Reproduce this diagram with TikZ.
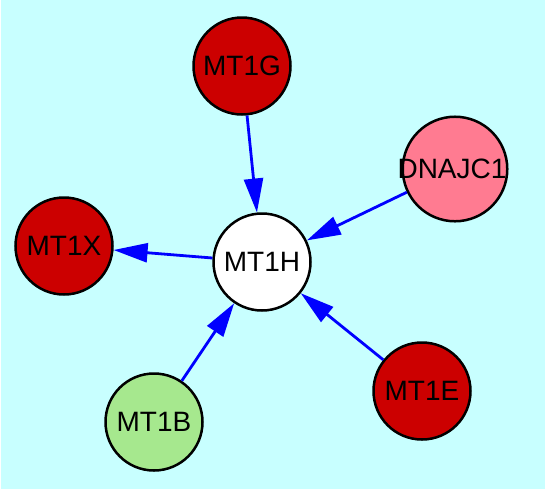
\documentclass[tikz,border=0pt]{standalone}
\usepackage{fontspec}
\setmainfont{Liberation Sans}
\usetikzlibrary{arrows.meta}
\definecolor{bgcyan}{RGB}{200,255,255}
\definecolor{nred}{RGB}{204,0,0}
\definecolor{npink}{RGB}{255,123,145}
\definecolor{ngreen}{RGB}{166,232,142}
\tikzset{
  gene/.style={circle, draw=black, line width=2.5pt, minimum size=97pt, inner sep=0pt,
    font=\fontsize{28}{28}\selectfont, text=black},
  link/.style={draw={rgb,255:red,0;green,0;blue,255}, line width=2.8pt,
    -{Triangle[length=34pt,width=19pt]}}
}
\begin{document}
\begin{tikzpicture}[x=1pt,y=-1pt]
\useasboundingbox (0,0) rectangle (545,491);
\fill[white] (0,0) rectangle (545,491);
\fill[bgcyan] (1,0) rectangle (545,489);
\node[gene, fill=nred] (g) at (242,66) {MT1G};
\node[gene, fill=npink] (d) at (455,169) {\hspace*{-6pt}DNAJC1};
\node[gene, fill=nred] (x) at (64,246) {MT1X};
\node[gene, fill=white] (h) at (262,262) {MT1H};
\node[gene, fill=ngreen] (b) at (154,422) {MT1B};
\node[gene, fill=nred] (e) at (422,391) {MT1E};
\draw[link] (g) -- (h);
\draw[link] (d) -- (h);
\draw[link] (h) -- (x);
\draw[link] (b) -- (h);
\draw[link] (e) -- (h);
\end{tikzpicture}
\end{document}
